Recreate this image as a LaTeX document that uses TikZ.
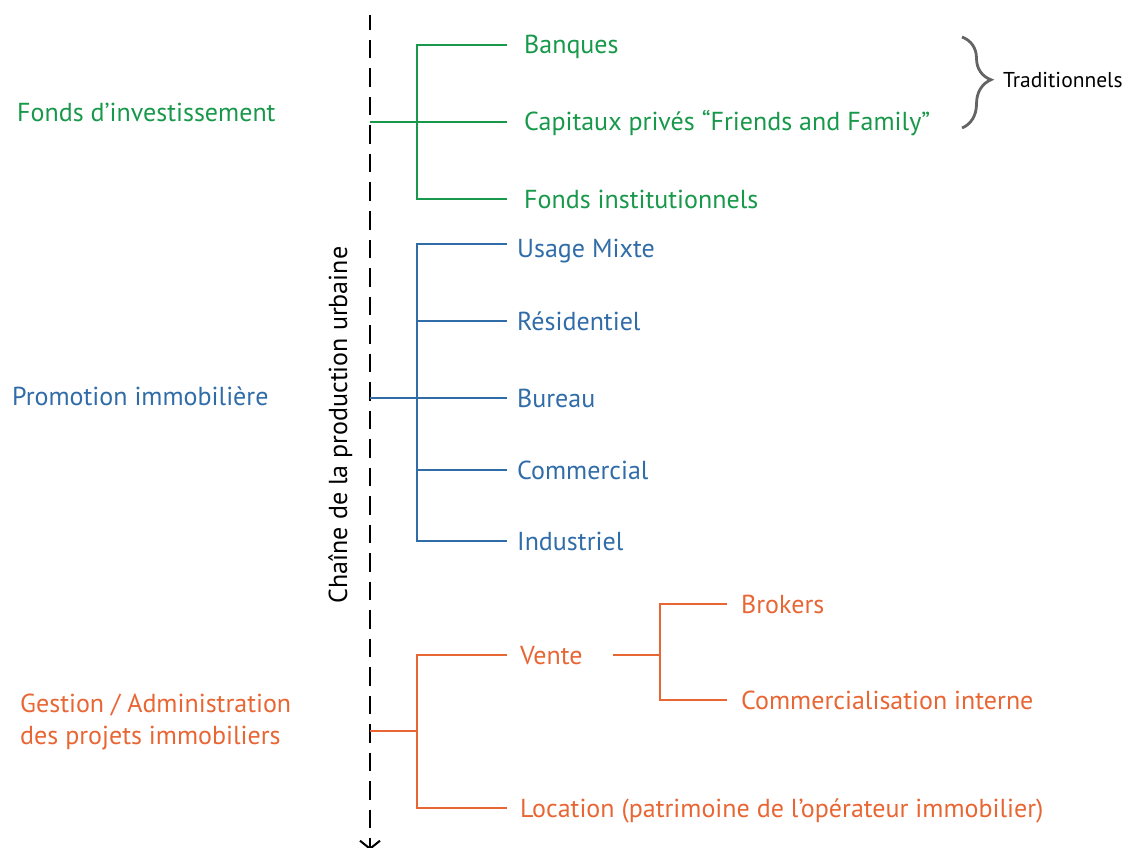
\documentclass[tikz,border=0pt]{standalone}
\usepackage{fontspec}
\setmainfont{PT Sans}
\usetikzlibrary{arrows.meta,decorations.pathreplacing,positioning}
\definecolor{cgreen}{RGB}{24,152,74}
\definecolor{cblue}{RGB}{48,108,168}
\definecolor{corange}{RGB}{232,102,52}
\definecolor{cgray}{RGB}{100,100,100}
\begin{document}
\begin{tikzpicture}[x=1pt,y=-1pt,
  lbl/.style={inner sep=0pt, anchor=west, text height=18pt, text depth=0pt, font=\fontsize{26}{32}\selectfont},
  gline/.style={draw=cgreen, line width=1.6pt},
  bline/.style={draw=cblue, line width=1.6pt},
  oline/.style={draw=corange, line width=1.6pt},
  spine/.style={draw=black, line width=2pt, dash pattern=on 18.5pt off 10pt, dash phase=3.5pt},
]
\useasboundingbox (0,0) rectangle (1128,848);

% spine
\coordinate (top) at (370,15);
\coordinate (bot) at (370,850);
\draw[spine, -{Straight Barb[length=8pt,width=20pt,line width=2pt]}] (top) -- (bot);
\node[lbl, anchor=center, rotate=90, text=black] (chain) at (338,425) {Chaîne de la production urbaine};

% green group
\node[lbl, text=cgreen] (fonds) at (17,113) {Fonds d’investissement};
\coordinate (gS) at (370,122);
\coordinate (gJ) at (417,122);
\coordinate (gB) at (507,45);
\coordinate (gC) at (507,122);
\coordinate (gF) at (507,199);
\node[lbl, text=cgreen, right=17pt of gB] (ban) {Banques};
\node[lbl, text=cgreen, right=17pt of gC] (cap) {Capitaux privés “Friends and Family”};
\node[lbl, text=cgreen, right=17pt of gF] (fin) {Fonds institutionnels};
\draw[gline] (gS) -- (gC);
\draw[gline] (gB) -| (gJ) |- (gF);

% brace
\coordinate (brT) at (962,37);
\coordinate (brB) at (962,128);
\draw[cgray, line width=2.8pt, decorate, decoration={brace, amplitude=29pt, aspect=0.47}] (brT) -- (brB);
\node[lbl, text=black, text height=15pt, font=\fontsize{21.5}{24}\selectfont] (trad) at (1003,80) {Traditionnels};

% blue group
\node[lbl, text=cblue] (promo) at (12,396) {Promotion immobilière};
\coordinate (bS) at (370,398);
\coordinate (bJ1) at (417,244);
\coordinate (bJ5) at (417,541);
\coordinate (bU) at (507,244);
\coordinate (bR) at (507,321);
\coordinate (bB) at (507,398);
\coordinate (bC) at (507,470);
\coordinate (bI) at (507,541);
\node[lbl, text=cblue, right=10pt of bU, yshift=-5pt] (usage) {Usage Mixte};
\node[lbl, text=cblue, right=10pt of bR] (resi) {Résidentiel};
\node[lbl, text=cblue, right=10pt of bB] (bur) {Bureau};
\node[lbl, text=cblue, right=10pt of bC] (com) {Commercial};
\node[lbl, text=cblue, right=10pt of bI] (ind) {Industriel};
\draw[bline] (bU) -- (bJ1) -- (bJ5) -- (bI);
\draw[bline] (bS) -- (bB);
\draw[bline] (bR -| bJ1) -- (bR);
\draw[bline] (bC -| bJ1) -- (bC);

% orange group
\node[lbl, text=corange, anchor=base west, align=left] (gest) at (20,744) {Gestion / Administration\\des projets immobiliers};
\coordinate (oS) at (370,731);
\coordinate (oJ) at (417,731);
\coordinate (oV) at (507,655);
\coordinate (oL) at (507,808);
\node[lbl, text=corange, right=13pt of oV] (vente) {Vente};
\node[lbl, text=corange, right=13pt of oL] (loc) {Location (patrimoine de l’opérateur immobilier)};
\draw[oline] (oS) -- (oJ);
\draw[oline] (oV) -| (oJ) |- (oL);
\coordinate (oV1) at (613,655);
\coordinate (oVJ) at (660,655);
\coordinate (oBr) at (727,604);
\coordinate (oCi) at (727,700);
\node[lbl, text=corange, right=14pt of oBr] (brok) {Brokers};
\node[lbl, text=corange, right=14pt of oCi] (cint) {Commercialisation interne};
\draw[oline] (oV1) -- (oVJ);
\draw[oline] (oBr) -| (oVJ) |- (oCi);
\end{tikzpicture}
\end{document}
